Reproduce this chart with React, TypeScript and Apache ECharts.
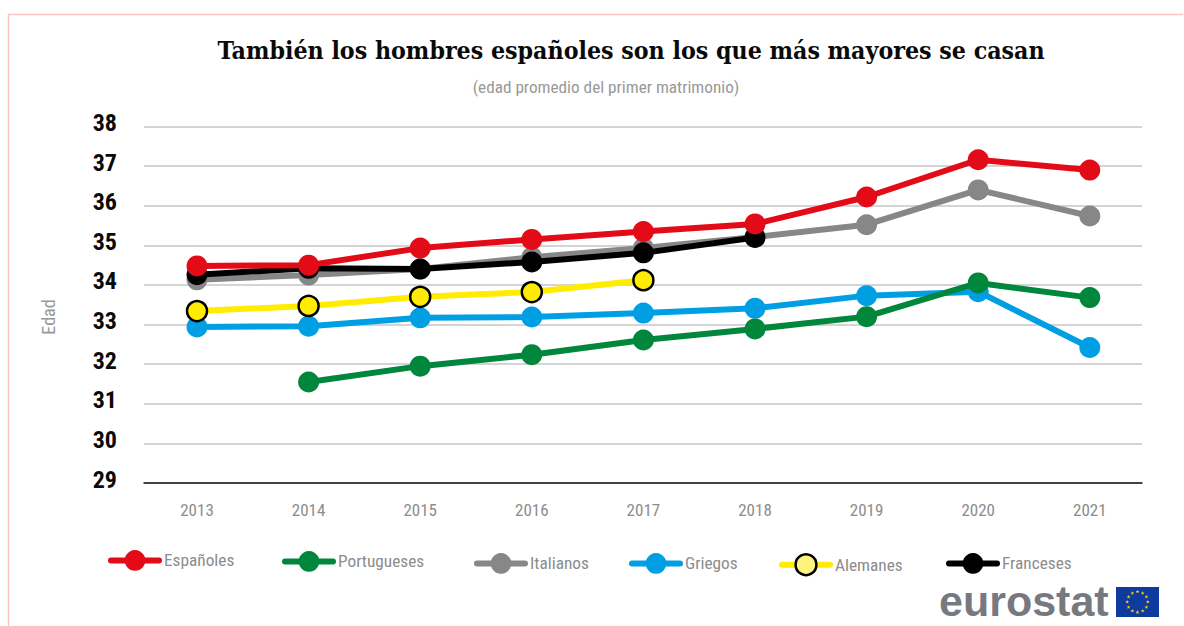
import React, { useEffect, useRef } from "react";
import * as echarts from "echarts";

const years = ["2013", "2014", "2015", "2016", "2017", "2018", "2019", "2020", "2021"];
const espanoles = [34.48, 34.5, 34.93, 35.15, 35.35, 35.54, 36.22, 37.16, 36.9];
const portugueses = [null, 31.55, 31.95, 32.24, 32.61, 32.89, 33.2, 34.05, 33.68];
const italianos = [34.13, 34.25, 34.4, 34.7, 34.93, 35.21, 35.52, 36.4, 35.74];
const griegos = [32.94, 32.96, 33.17, 33.19, 33.29, 33.41, 33.73, 33.83, 32.42];
const alemanes = [33.34, 33.47, 33.7, 33.82, 34.12, null, null, null, null];
const franceses = [34.26, 34.42, 34.4, 34.58, 34.81, 35.2, null, null, null];

const NARROW = '"Liberation Sans Narrow", "Roboto Condensed", "Liberation Sans", sans-serif';

function star(cx: number, cy: number, r: number) {
  const pts: number[][] = [];
  for (let i = 0; i < 10; i++) {
    const a = -Math.PI / 2 + (i * Math.PI) / 5;
    const rr = i % 2 === 0 ? r : r * 0.42;
    pts.push([cx + rr * Math.cos(a), cy + rr * Math.sin(a)]);
  }
  return pts;
}

export default function App() {
  const ref = useRef<HTMLDivElement>(null);
  useEffect(() => {
    document.body.style.margin = "0";
    const chart = echarts.init(ref.current!, undefined, { renderer: "svg" });

    const line = (name: string, data: (number | null)[], color: string, z: number, extra: any = {}) => ({
      name,
      type: "line",
      data,
      xAxisIndex: 1,
      yAxisIndex: 1,
      z,
      symbol: "circle",
      symbolSize: 21,
      showSymbol: true,
      connectNulls: false,
      lineStyle: { color, width: 6, cap: "round" },
      itemStyle: { color, borderWidth: 0 },
      emphasis: { disabled: true },
      ...extra,
    });

    const legendAt = (name: string, left: number, cy: number, extra: any = {}) => ({
      show: true,
      left,
      top: cy - 13,
      padding: 0,
      itemWidth: 48,
      itemHeight: 26,
      selectedMode: false,
      lineStyle: { width: 6, cap: "round" },
      data: [{ name, ...extra }],
      textStyle: { fontFamily: NARROW, fontSize: 17.3, color: "#8c8c8c", padding: [2, 0, 0, 0] },
    });

    const stars: any[] = [];
    for (let i = 0; i < 12; i++) {
      const a = (i * Math.PI) / 6;
      stars.push({
        type: "polygon",
        z: 10,
        shape: { points: star(1137.5 + 10.3 * Math.sin(a), 602 - 10.3 * Math.cos(a), 2) },
        style: { fill: "#ffcc00" },
      });
    }

    chart.setOption({
      animation: false,
      backgroundColor: "#ffffff",
      title: [
        {
          text: "También los hombres españoles son los que más mayores se casan",
          left: 631,
          top: 38,
          textAlign: "center",
          padding: 0,
          textStyle: {
            fontFamily: '"DejaVu Serif Condensed", "DejaVu Serif", serif',
            fontWeight: "bold",
            fontSize: 24.7,
            color: "#0a0a0a",
          },
        },
        {
          text: "(edad promedio del primer matrimonio)",
          left: 606,
          top: 78,
          textAlign: "center",
          padding: 0,
          textStyle: { fontFamily: NARROW, fontWeight: "normal", fontSize: 17.2, color: "#999999" },
        },
      ],
      grid: [
        { left: 144, top: 126.5, width: 998, height: 356.5 },
        { left: 141.2, top: 126.5, width: 1004.4, height: 356.5 },
      ],
      xAxis: [
        {
          type: "category",
          gridIndex: 0,
          data: years,
          axisLine: { show: true, lineStyle: { color: "#111111", width: 1.5 } },
          axisTick: { show: false },
          axisLabel: { show: false },
        },
        {
          type: "category",
          gridIndex: 1,
          data: years,
          axisLine: { show: false },
          axisTick: { show: false },
          axisLabel: { color: "#8c8c8c", fontFamily: NARROW, fontSize: 17, margin: 18, interval: 0 },
        },
      ],
      yAxis: [
        {
          type: "value",
          gridIndex: 0,
          min: 29,
          max: 38,
          interval: 1,
          axisLine: { show: false },
          axisTick: { show: false },
          splitLine: { show: true, lineStyle: { color: "#c6c6c6", width: 1.5 } },
          axisLabel: {
            color: "#0a0a0a",
            fontFamily: NARROW,
            fontWeight: "bold",
            fontSize: 24,
            margin: 27,
            verticalAlign: "bottom",
            lineHeight: 7,
          },
        },
        {
          type: "value",
          gridIndex: 1,
          min: 29,
          max: 38,
          interval: 1,
          axisLine: { show: false },
          axisTick: { show: false },
          splitLine: { show: false },
          axisLabel: { show: false },
        },
      ],
      legend: [
        legendAt("Españoles", 108, 563),
        legendAt("Portugueses", 282, 564),
        legendAt("Italianos", 474, 566),
        legendAt("Griegos", 629, 566),
        legendAt("Alemanes", 779, 566, { itemStyle: { color: "#fff380", borderColor: "#000000", borderWidth: 2.5 } }),
        legendAt("Franceses", 946, 566),
      ],
      series: [
        line("Griegos", griegos, "#009fe3", 2),
        line("Portugueses", portugueses, "#00873c", 3),
        line("Italianos", italianos, "#878787", 4),
        line("Alemanes", alemanes, "#ffec00", 5, {
          symbolSize: 20,
          itemStyle: { color: "#ffec00", borderColor: "#000000", borderWidth: 2.5 },
        }),
        line("Franceses", franceses, "#000000", 6),
        line("Españoles", espanoles, "#e30b17", 7),
      ],
      graphic: [
        {
          type: "polyline",
          silent: true,
          shape: { points: [[8.5, 626], [8.5, 14.5], [1183, 14.5]] },
          style: { stroke: "#fdc5c0", lineWidth: 1.5, fill: "none" },
        },
        {
          type: "text",
          x: 48,
          y: 317,
          rotation: Math.PI / 2,
          style: {
            text: "Edad",
            fontFamily: NARROW,
            fontSize: 18,
            fill: "#999999",
            align: "center",
            verticalAlign: "middle",
          },
        },
        {
          type: "text",
          x: 939,
          y: 601,
          style: {
            text: "eurostat",
            fontFamily: '"Liberation Sans", sans-serif',
            fontWeight: "bold",
            fontSize: 43,
            fill: "#767a80",
            align: "left",
            verticalAlign: "middle",
          },
        },
        { type: "rect", z: 5, shape: { x: 1116, y: 587, width: 43, height: 30 }, style: { fill: "#0f3a9e" } },
        ...stars,
      ],
    });
    return () => chart.dispose();
  }, []);
  return <div ref={ref} style={{ width: 1184, height: 626 }} />;
}
